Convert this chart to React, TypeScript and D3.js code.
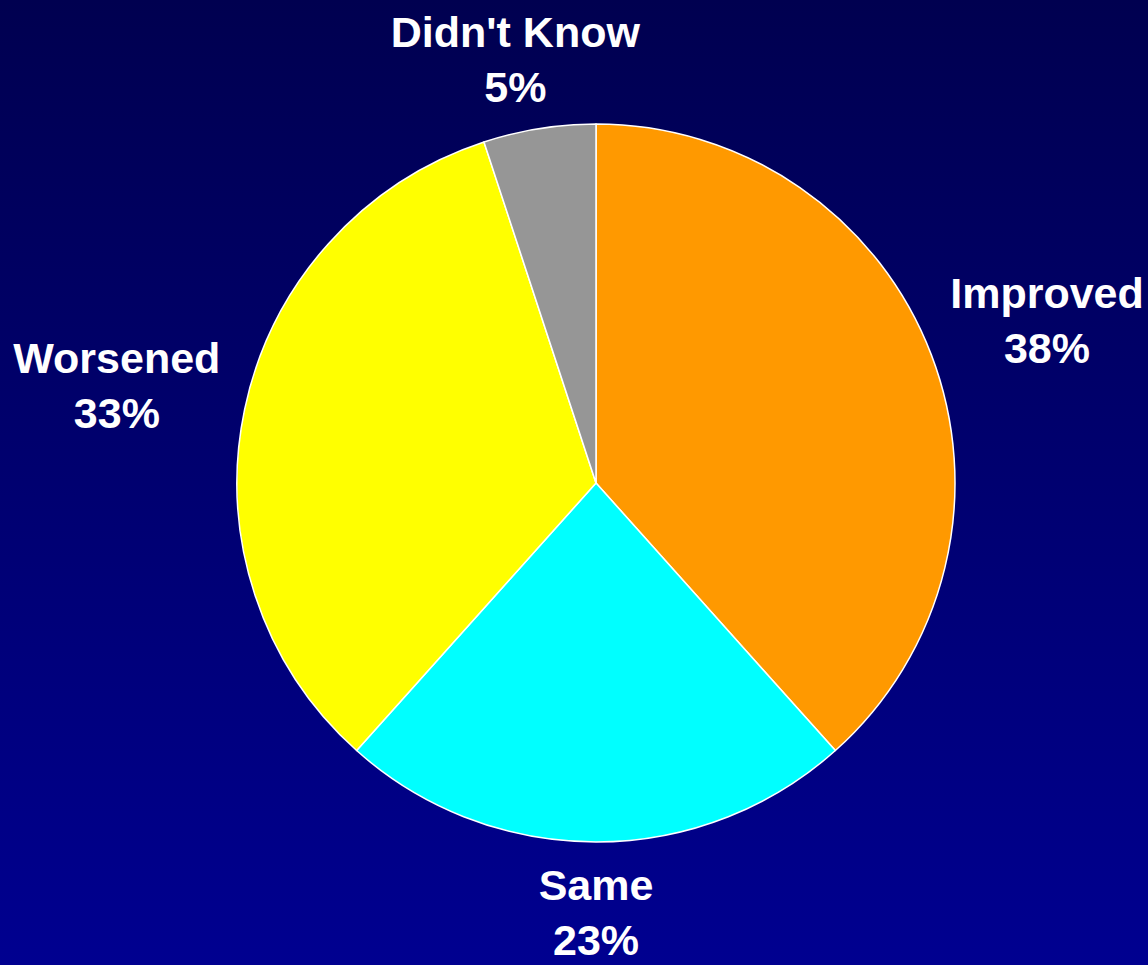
import React, { useEffect, useMemo } from "react";
import * as d3 from "d3";

const categories = ["Improved", "Same", "Worsened", "Didn't Know"];
const values = [38, 23, 33, 5];
const percentLabels = ["38%", "23%", "33%", "5%"];
const colors = ["#FF9900", "#00FFFF", "#FFFF00", "#969696"];

const W = 1148;
const H = 965;
const FONT = "bold 43px 'Liberation Sans', Arial, sans-serif";

function measure(text: string): number {
  if (typeof document === "undefined") return text.length * 24;
  const c = document.createElement("canvas");
  const ctx = c.getContext("2d");
  if (!ctx) return text.length * 24;
  ctx.font = FONT;
  return ctx.measureText(text).width;
}

export default function App() {
  useEffect(() => {
    document.body.style.margin = "0";
    document.body.style.overflow = "hidden";
  }, []);

  const cx = 596;
  const cy = 483;
  const r = 359;
  const labelR = 386;
  const lineH = 55;
  const capH = 31;

  const arcs = useMemo(
    () =>
      d3
        .pie<number>()
        .sort(null)
        .value((d) => d)(values),
    []
  );
  const arcGen = d3.arc<d3.PieArcDatum<number>>().innerRadius(0).outerRadius(r);

  return (
    <svg width={W} height={H} style={{ display: "block" }}>
      <defs>
        <linearGradient id="bg" x1="0" y1="0" x2="0" y2="1">
          <stop offset="0%" stopColor="#000050" />
          <stop offset="100%" stopColor="#000090" />
        </linearGradient>
      </defs>
      <rect x={0} y={0} width={W} height={H} fill="url(#bg)" />
      <g transform={`translate(${cx},${cy})`}>
        {arcs.map((a, i) => (
          <path
            key={categories[i]}
            d={arcGen(a) || ""}
            fill={colors[i]}
            stroke="#FFFFFF"
            strokeWidth={1.5}
            strokeLinejoin="round"
          />
        ))}
        {arcs.map((a, i) => {
          const mid = (a.startAngle + a.endAngle) / 2;
          const s = Math.sin(mid);
          const c = Math.cos(mid);
          const hw = Math.max(measure(categories[i]), measure(percentLabels[i])) / 2;
          const hh = (capH + lineH) / 2;
          const x = s * (labelR + hw);
          const y = -c * labelR - Math.sign(c) * Math.sqrt(Math.abs(c)) * hh;
          const firstBaseline = y - hh + capH;
          return (
            <text
              key={"l" + i}
              x={x}
              y={firstBaseline}
              fill="#FFFFFF"
              textAnchor="middle"
              style={{ font: FONT }}
            >
              <tspan x={x} y={firstBaseline}>
                {categories[i]}
              </tspan>
              <tspan x={x} y={firstBaseline + lineH}>
                {percentLabels[i]}
              </tspan>
            </text>
          );
        })}
      </g>
    </svg>
  );
}
